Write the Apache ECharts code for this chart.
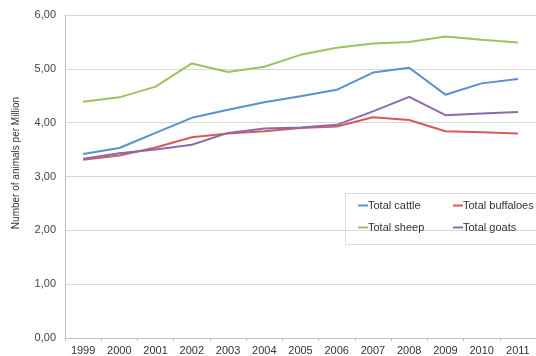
<!DOCTYPE html>
<html><head><meta charset="utf-8">
<script src="https://cdn.jsdelivr.net/npm/echarts@6/dist/echarts.min.js"></script>
<style>html,body{margin:0;padding:0;background:#fff}#c{width:536px;height:356px}</style>
</head><body><div id="c"></div>
<script>
const years = ['1999','2000','2001','2002','2003','2004','2005','2006','2007','2008','2009','2010','2011'];
const cattle = [3.42,3.53,3.81,4.09,4.24,4.38,4.49,4.61,4.93,5.02,4.52,4.73,4.81];
const buffaloes = [3.31,3.39,3.54,3.73,3.80,3.84,3.90,3.93,4.10,4.05,3.84,3.82,3.80];
const sheep = [4.39,4.47,4.67,5.10,4.94,5.04,5.26,5.39,5.47,5.50,5.60,5.54,5.49];
const goats = [3.33,3.43,3.50,3.59,3.81,3.89,3.91,3.96,4.21,4.48,4.14,4.17,4.20];
const yTicks = [0,1,2,3,4,5,6];
const yTitle = 'Number of animals per Million';

const chart = echarts.init(document.getElementById('c'));
const font = 'Liberation Sans, Arial, sans-serif';
function ser(name, data, color){
  return {name, type:'line', data, symbol:'none', smooth:false,
    lineStyle:{color, width:2}, itemStyle:{color}};
}
const legendCommon = {orient:'vertical', icon:'rect', itemWidth:10, itemHeight:2, itemGap:11,
  textStyle:{fontFamily:font, fontSize:11, color:'#333', padding:[0,0,0,-5]}, top:200, padding:0};
chart.setOption({
  animation:false,
  grid:{left:65, top:15, width:476, height:324, containLabel:false},
  xAxis:{type:'category', data:years, boundaryGap:true,
    axisLine:{lineStyle:{color:'#bfbfbf'}},
    axisTick:{show:true, length:3, lineStyle:{color:'#bfbfbf'}},
    axisLabel:{fontFamily:font, fontSize:11, color:'#333', margin:7}},
  yAxis:{type:'value', min:yTicks[0], max:yTicks[yTicks.length-1], interval:1,
    axisLine:{show:true, lineStyle:{color:'#bfbfbf'}},
    axisTick:{show:false},
    axisLabel:{fontFamily:font, fontSize:11, color:'#444', margin:9,
      formatter:v=>v.toFixed(2).replace('.',',')},
    splitLine:{lineStyle:{color:'#d9d9d9', width:1}}},
  legend:[
    Object.assign({left:358, data:['Total cattle','Total sheep']}, legendCommon),
    Object.assign({left:453, data:['Total buffaloes','Total goats']}, legendCommon)
  ],
  graphic:[
    {type:'rect', shape:{x:345.5, y:193.5, width:200, height:51},
      style:{fill:'#fff', stroke:'#dcdcdc', lineWidth:1}, z:-1, silent:true},
    {type:'text', x:16, y:163, rotation:Math.PI/2,
      style:{text:yTitle, fontFamily:font, fontSize:10, fill:'#333', align:'center', verticalAlign:'middle'}, silent:true}
  ],
  series:[
    ser('Total cattle', cattle, '#5b8fcf'),
    ser('Total buffaloes', buffaloes, '#d55b58'),
    ser('Total sheep', sheep, '#9dc35e'),
    ser('Total goats', goats, '#8a6bb0')
  ]
});
</script></body></html>
